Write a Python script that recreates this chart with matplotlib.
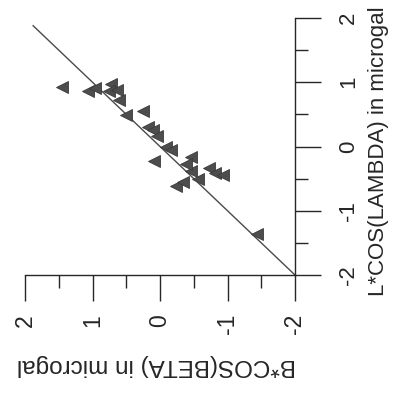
import matplotlib
matplotlib.use('Agg')
import matplotlib.pyplot as plt
from matplotlib.ticker import MultipleLocator

plt.rcParams['font.family'] = ['Liberation Sans', 'DejaVu Sans']

# Data: B*COS(BETA) and L*COS(LAMBDA) in microgal
b_cos_beta = [1.45, 1.06, 0.96, 0.72, 0.76, 0.64, 0.61, 0.51, 0.25, 0.18,
              0.10, 0.04, -0.09, -0.16, 0.09, -0.46, -0.46, -0.57, -0.24, -0.34,
              -0.72, -0.82, -0.94, -1.43, -0.39]
l_cos_lambda = [0.92, 0.86, 0.91, 0.98, 0.86, 0.88, 0.73, 0.49, 0.55, 0.31,
                0.25, 0.17, 0.00, -0.06, -0.23, -0.16, -0.38, -0.50, -0.61, -0.56,
                -0.34, -0.41, -0.45, -1.36, -0.28]
fit_line = [-2.0, 1.88]
ticks = [-2, -1, 0, 1, 2]
tick_labels = ['-2', '-1', '0', '1', '2']

ink = '#262626'

fig = plt.figure(figsize=(3.94, 4.0), dpi=100)
ax = fig.add_axes([25 / 394, 125 / 400, 270 / 394, 257 / 400])
ax.set_xlim(2, -2)
ax.set_ylim(-2, 2)

ax.plot(fit_line, fit_line, color='#4a4a4a', lw=1.0, zorder=1)
ax.plot(b_cos_beta, l_cos_lambda, linestyle='none', marker='<', ms=8.5,
        mfc='#4d4d4d', mec='#3a3a3a', mew=0.6, zorder=2)

for s in ['top', 'left']:
    ax.spines[s].set_visible(False)
for s in ['bottom', 'right']:
    ax.spines[s].set_color(ink)
    ax.spines[s].set_linewidth(1.0)

ax.yaxis.tick_right()
ax.set_xticks(ticks)
ax.set_xticklabels(tick_labels, rotation=90, ha='center', va='top')
ax.set_yticks(ticks)
ax.set_yticklabels(tick_labels, rotation=90, ha='left', va='center')
ax.xaxis.set_minor_locator(MultipleLocator(0.5))
ax.yaxis.set_minor_locator(MultipleLocator(0.5))

ax.tick_params(axis='x', which='major', length=19, width=1.0, color=ink,
               direction='out', labelsize=16.5, labelcolor=ink, pad=9)
ax.tick_params(axis='y', which='major', length=19, width=1.0, color=ink,
               direction='out', labelsize=16, labelcolor=ink, pad=12)
ax.tick_params(axis='both', which='minor', length=9, width=1.0, color=ink,
               direction='out')

ax.set_xlabel('B*COS(BETA) in microgal', rotation=180, fontsize=17.5,
              color=ink, ha='center', va='center')
ax.xaxis.set_label_coords(0.485, -0.35)
ax.yaxis.set_label_position('right')
ax.set_ylabel('L*COS(LAMBDA) in microgal', rotation=90, fontsize=16,
              color=ink, ha='center', va='center')
ax.yaxis.set_label_coords(1.31, 0.48)

fig.savefig('out.png', dpi=100)
